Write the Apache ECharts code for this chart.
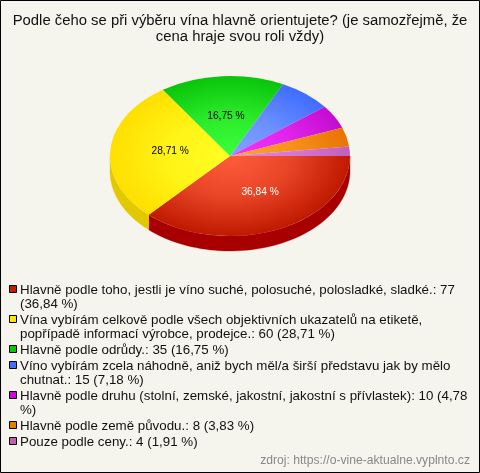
<!DOCTYPE html>
<html><head><meta charset="utf-8">
<style>html,body{margin:0;padding:0;background:#f5f5ee}#c{width:480px;height:473px}</style>
<script src="https://cdn.jsdelivr.net/npm/echarts@6/dist/echarts.min.js"></script>
</head><body><div id="c"></div>
<script>
const titleLines = ['Podle čeho se při výběru vína hlavně orientujete? (je samozřejmě, že', 'cena hraje svou roli vždy)'];
const sourceText = 'zdroj: https://o-vine-aktualne.vyplnto.cz';
const categories = [
  'Hlavně podle toho, jestli je víno suché, polosuché, polosladké, sladké.',
  'Vína vybírám celkově podle všech objektivních ukazatelů na etiketě, popřípadě informací výrobce, prodejce.',
  'Hlavně podle odrůdy.',
  'Víno vybírám zcela náhodně, aniž bych měl/a širší představu jak by mělo chutnat.',
  'Hlavně podle druhu (stolní, zemské, jakostní, jakostní s přívlastek)',
  'Hlavně podle země původu.',
  'Pouze podle ceny.'
];
const values = [77, 60, 35, 15, 10, 8, 4];
const percentLabels = ['36,84', '28,71', '16,75', '7,18', '4,78', '3,83', '1,91'];
const innerColors = ['#ff5c3c', '#ffff24', '#3cff3c', '#82a4ff', '#f434ff', '#ffa42c', '#e684e6'];
const outerColors = ['#bf1a00', '#ffdf00', '#0ac40a', '#3f6cff', '#c40cd0', '#e87400', '#c060bc'];
const swatchColors = ['#c41e00', '#ffe600', '#0cc40c', '#4070ff', '#c80cd4', '#e87c00', '#c060b0'];
const wallColors = ['#a80000', '#e2c800', '#089808', '#3050c0', '#980aa0', '#b05800', '#905090'];
const labelledSlices = [0, 1, 2];
const labelColors = ['#ffffff', '#000000', '#000000'];

const CX = 230, CY = 156, RX = 120, RY = 80, DEPTH = 15;
const FAMILY = '"Liberation Sans", Arial, sans-serif';
const FONT = '13.33px ' + FAMILY;
const total = values.reduce((a, b) => a + b, 0);
const TAU = Math.PI * 2;
const starts = [];
values.reduce((acc, v, i) => { starts[i] = acc; return acc + v; }, 0);
const angleOf = sum => sum / total * TAU;

function wallItem(params, api) {
  const i = api.value(0);
  const a0 = angleOf(starts[i]);
  const a1 = Math.min(angleOf(starts[i] + api.value(1)), Math.PI);
  if (a0 >= Math.PI) return { type: 'group', children: [] };
  const top = [], bot = [];
  const n = 60;
  for (let k = 0; k <= n; k++) {
    const a = a0 + (a1 - a0) * k / n;
    const x = CX + RX * Math.cos(a), y = CY + RY * Math.sin(a);
    top.push([x, y]);
    bot.unshift([x, y + DEPTH]);
  }
  return { type: 'polygon', shape: { points: top.concat(bot) },
    style: { fill: wallColors[i], stroke: wallColors[i], lineWidth: 0.3 } };
}
function topItem(params, api) {
  const i = api.value(0);
  const a0 = angleOf(starts[i]);
  const a1 = angleOf(starts[i] + api.value(1));
  const children = [{
    type: 'group', x: CX, y: CY, scaleY: RY / RX,
    children: [{
      type: 'sector',
      shape: { cx: 0, cy: 0, r0: 0, r: RX, startAngle: a0, endAngle: a1, clockwise: true },
      style: { fill: { type: 'radial', x: 0, y: 0, r: RX, global: true,
        colorStops: [
          { offset: 0, color: innerColors[i] },
          { offset: 0.5, color: echarts.color.lerp(0.35, [innerColors[i], outerColors[i]]) },
          { offset: 1, color: outerColors[i] }
        ] } }
    }]
  }];
  const li = labelledSlices.indexOf(i);
  if (li >= 0) {
    const m = (a0 + a1) / 2;
    children.push({
      type: 'text', z2: 10,
      x: CX + RX * 0.5 * Math.cos(m) + (i === 0 ? 6 : 0),
      y: CY + RY * 0.5 * Math.sin(m) - (i === 1 ? 2 : 0),
      style: { text: percentLabels[i] + ' %', fill: labelColors[li],
        font: '10.2px ' + FAMILY, align: 'center', verticalAlign: 'middle' }
    });
  }
  return { type: 'group', children };
}

const measure = document.createElement('canvas').getContext('2d');
measure.font = FONT;
function wrap(text, maxW) {
  const lines = []; let cur = '';
  text.split(' ').forEach(w => {
    const t = cur ? cur + ' ' + w : w;
    if (measure.measureText(t).width > maxW && cur) { lines.push(cur); cur = w; } else cur = t;
  });
  lines.push(cur);
  return lines;
}
const graphics = [{
  type: 'rect', silent: true, z: -1,
  shape: { x: 0.5, y: 0.5, width: 479, height: 472 },
  style: { fill: '#f5f5ee', stroke: '#000', lineWidth: 1 }
}];
titleLines.forEach((t, i) => graphics.push({ type: 'text', x: 240, y: 21 + i * 16,
  style: { text: t, font: '14.85px ' + FAMILY, fill: '#111', align: 'center', verticalAlign: 'middle' } }));
let y = 289.5;
const LINE = 14.3, GAP = 1.5;
categories.forEach((c, i) => {
  const lines = wrap(`${c}: ${values[i]} (${percentLabels[i]} %)`, 456);
  graphics.push({ type: 'rect', shape: { x: 9.5, y: Math.round(y) - 4.5, width: 7, height: 7 },
    style: { fill: swatchColors[i], stroke: '#000', lineWidth: 1 } });
  lines.forEach(l => {
    graphics.push({ type: 'text', x: 20, y: Math.round(y),
      style: { text: l, font: FONT, fill: '#111', verticalAlign: 'middle' } });
    y += LINE;
  });
  y += GAP;
});
graphics.push({ type: 'text', x: 470, y: 461,
  style: { text: sourceText, font: '12.15px ' + FAMILY, fill: '#888', align: 'right', verticalAlign: 'middle' } });

const data = values.map((v, i) => ({ name: categories[i], value: [i, v] }));
const chart = echarts.init(document.getElementById('c'), null, { renderer: 'canvas' });
chart.setOption({
  animation: false,
  backgroundColor: '#f5f5ee',
  graphic: { elements: graphics },
  series: [
    { type: 'custom', name: 'wall', renderItem: wallItem, data, z: 2, silent: true, clip: false, coordinateSystem: 'none' },
    { type: 'custom', name: 'top', renderItem: topItem, data, z: 3, silent: true, clip: false, coordinateSystem: 'none' }
  ]
});
</script></body></html>
